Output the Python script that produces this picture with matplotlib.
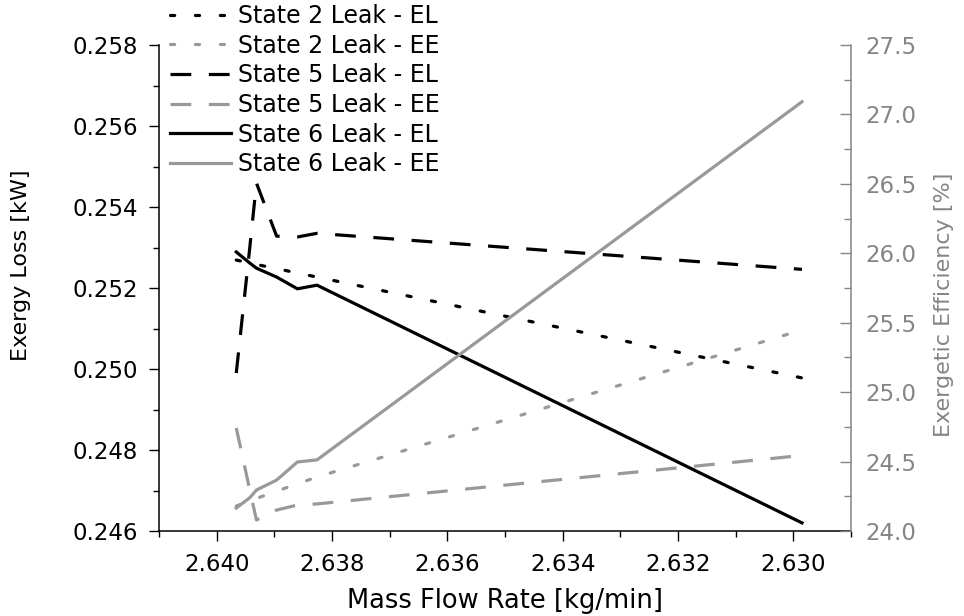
import matplotlib
matplotlib.use("Agg")
import matplotlib.pyplot as plt
from matplotlib.ticker import MultipleLocator, FormatStrFormatter

plt.rcParams['font.family'] = ['DejaVu Sans']

# ---- data ----
mass_flow = [2.63966, 2.63943, 2.63931, 2.63896, 2.63860, 2.63826, 2.62985]

state2_el = [0.25269, 0.25262, 0.25258, 0.25248, 0.25237, 0.25227, 0.24978]
state5_el = [0.24990, 0.25294, 0.25459, 0.25328, 0.25326, 0.25335, 0.25246]
state6_el = [0.25289, 0.25262, 0.25249, 0.25227, 0.25198, 0.25207, 0.24620]

state2_ee = [24.180, 24.216, 24.234, 24.288, 24.339, 24.389, 25.448]
state5_ee = [24.742, 24.303, 24.079, 24.151, 24.187, 24.195, 24.544]
state6_ee = [24.166, 24.238, 24.295, 24.367, 24.497, 24.512, 27.091]

labels = ["State 2 Leak - EL", "State 2 Leak - EE",
          "State 5 Leak - EL", "State 5 Leak - EE",
          "State 6 Leak - EL", "State 6 Leak - EE"]

xlabel = "Mass Flow Rate [kg/min]"
ylabel_left = "Exergy Loss [kW]"
ylabel_right = "Exergetic Efficiency [%]"

# ---- style ----
GRAY_LINE = "#999999"
GRAY_AX = "#858585"
LW = 2.3
DOT = (0, (1.3, 6.5))
DASH = (0, (6.5, 5.5))
TICK_FS = 16.5
LABEL_FS = 16

W, H = 964, 616
L, R, T, B = 159, 851, 45, 531
fig = plt.figure(figsize=(W / 100, H / 100), dpi=100)
ax = fig.add_axes([L / W, 1 - B / H, (R - L) / W, (B - T) / H])
ax2 = ax.twinx()

h1, = ax.plot(mass_flow, state2_el, color="black", lw=LW, linestyle=DOT, dash_capstyle="round")
h3, = ax.plot(mass_flow, state5_el, color="black", lw=LW, linestyle=DASH)
h5, = ax.plot(mass_flow, state6_el, color="black", lw=LW, linestyle="-")

h2, = ax2.plot(mass_flow, state2_ee, color=GRAY_LINE, lw=LW, linestyle=DOT, dash_capstyle="round")
h4, = ax2.plot(mass_flow, state5_ee, color=GRAY_LINE, lw=LW, linestyle=DASH)
h6, = ax2.plot(mass_flow, state6_ee, color=GRAY_LINE, lw=LW, linestyle="-")

# axes limits and ticks
ax.set_xlim(2.641, 2.629)
ax.set_ylim(0.246, 0.258)
ax2.set_ylim(24.0, 27.5)

ax.xaxis.set_major_locator(MultipleLocator(0.002))
ax.xaxis.set_minor_locator(MultipleLocator(0.001))
ax.xaxis.set_major_formatter(FormatStrFormatter("%.3f"))
ax.yaxis.set_major_locator(MultipleLocator(0.002))
ax.yaxis.set_minor_locator(MultipleLocator(0.001))
ax.yaxis.set_major_formatter(FormatStrFormatter("%.3f"))
ax2.yaxis.set_major_locator(MultipleLocator(0.5))
ax2.yaxis.set_minor_locator(MultipleLocator(0.25))
ax2.yaxis.set_major_formatter(FormatStrFormatter("%.1f"))

for s in ["top", "right"]:
    ax.spines[s].set_visible(False)
for s in ["top", "left", "bottom"]:
    ax2.spines[s].set_visible(False)
ax.spines["left"].set_linewidth(1.1)
ax.spines["bottom"].set_linewidth(1.1)
ax2.spines["right"].set_linewidth(1.1)
ax2.spines["right"].set_color(GRAY_AX)

ax.tick_params(axis="both", which="major", direction="out", length=7.5, width=1.0,
               labelsize=TICK_FS, colors="black")
ax.tick_params(axis="y", which="major", pad=7.5)
ax.tick_params(axis="x", which="major", pad=8.5)
ax.tick_params(axis="both", which="minor", direction="out", length=4, width=1.0)
ax.tick_params(axis="y", which="both", right=False)
ax2.tick_params(axis="y", which="major", direction="in", length=8, width=1.0,
                labelsize=TICK_FS, pad=10, colors=GRAY_AX)
ax2.tick_params(axis="y", which="minor", direction="in", length=5, width=1.0, colors=GRAY_AX)

# axis labels
ax.set_xlabel(xlabel, fontsize=18.5, va="center")
ax.xaxis.set_label_coords(0.5, (B - 601) / (B - T))
ax.set_ylabel(ylabel_left, fontsize=LABEL_FS, va="center", ha="center")
ax.yaxis.set_label_coords((21 - L) / (R - L), (B - 265) / (B - T))
ax2.set_ylabel(ylabel_right, fontsize=LABEL_FS, color=GRAY_AX, va="center", ha="center")
ax2.yaxis.set_label_coords((944 - L) / (R - L), (B - 305) / (B - T))

# legend
fig.legend([h1, h2, h3, h4, h5, h6], labels, loc="upper left",
           bbox_to_anchor=(170 / W, 1 - 4 / H), frameon=False, fontsize=17,
           borderpad=0, borderaxespad=0, handlelength=2.6, handletextpad=0.3,
           labelspacing=0.24)

fig.savefig("out.png", dpi=100)
